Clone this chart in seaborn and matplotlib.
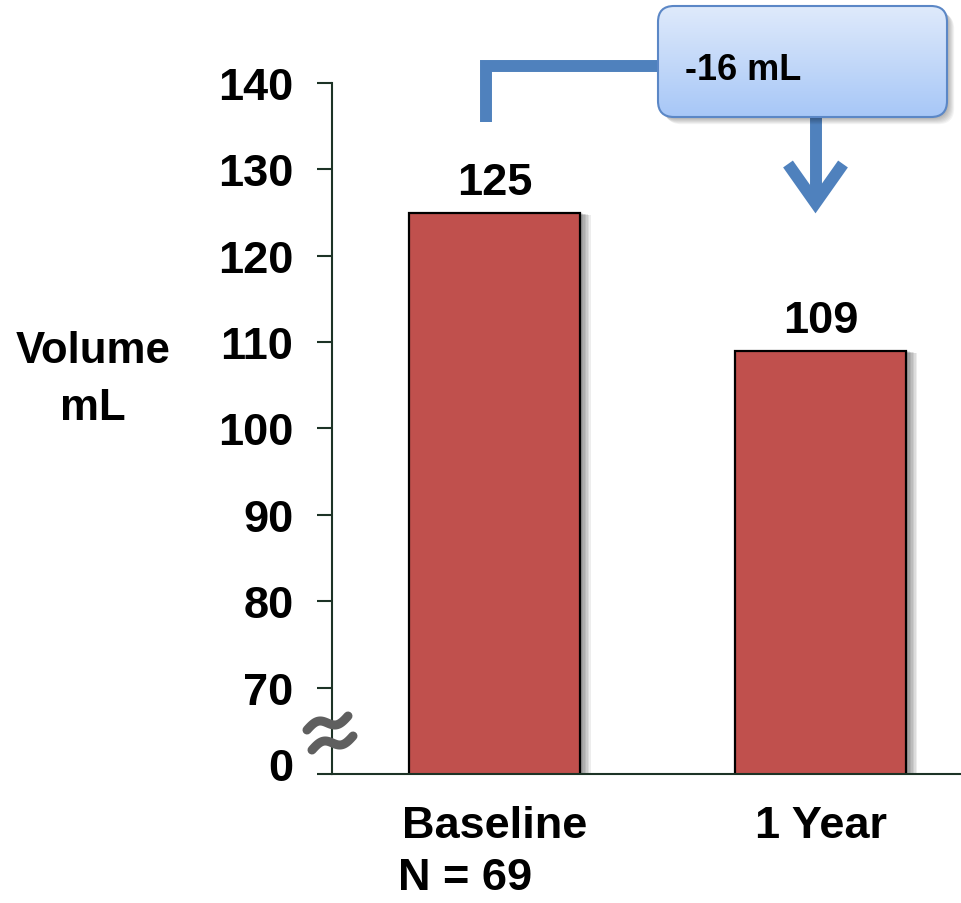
import numpy as np
import pandas as pd
import seaborn as sns
import matplotlib
matplotlib.use("Agg")
import matplotlib.pyplot as plt
import matplotlib.patheffects as pe
import matplotlib.transforms as mtransforms
from matplotlib.patches import FancyBboxPatch

# ---- data ----
categories = ["Baseline", "1 Year"]
volumes = [125, 109]
y_ticks = [60, 70, 80, 90, 100, 110, 120, 130, 140]
y_tick_labels = ["0", "70", "80", "90", "100", "110", "120", "130", "140"]
sample_note = "N = 69"

sns.set_theme(style="white")
plt.rcParams["font.family"] = ["Liberation Sans", "DejaVu Sans"]
plt.rcParams["font.weight"] = "bold"

W, H = 961, 904
FS = 32.5
fig = plt.figure(figsize=(W / 100, H / 100), dpi=100)
fig.patch.set_facecolor("white")

# main axes: pixel box x 332..961, y 84..775
ax = fig.add_axes([332 / W, (H - 775) / H, (W - 332) / W, (775 - 84) / H])
ax.set_facecolor("white")

df = pd.DataFrame({"period": categories, "volume": volumes})
bar_fx = [pe.SimplePatchShadow(offset=(k * 1.1, -k * 0.25), shadow_rgbFace="black",
                               alpha=0.07) for k in range(1, 8)] + [pe.Normal()]
sns.barplot(data=df, x="period", y="volume", color="#c0504d", saturation=1,
            width=0.524, edgecolor="black", linewidth=1.6, ax=ax)
for bar in ax.patches:
    bar.set_path_effects(bar_fx)

ax.set_xlim(-0.498, 1.429)
ax.set_ylim(60, 140)
ax.set_yticks(y_ticks)
ax.set_yticklabels(y_tick_labels)
ax.set_xlabel("")
ax.set_ylabel("")

spine_color = "#1d3326"
for side in ["top", "right"]:
    ax.spines[side].set_visible(False)
for side in ["left", "bottom"]:
    ax.spines[side].set_color(spine_color)
    ax.spines[side].set_linewidth(1.5)

ax.tick_params(axis="y", direction="out", length=10.8, width=1.5, color=spine_color,
               pad=17, labelsize=FS, left=True)
ax.tick_params(axis="x", length=0, pad=22, labelsize=FS)
for lbl in ax.get_yticklabels() + ax.get_xticklabels():
    lbl.set_fontweight("bold")
    lbl.set_color("black")

# the "0" under the axis break sits a little above its tick
zero_lbl = ax.get_yticklabels()[0]
zero_lbl.set_transform(zero_lbl.get_transform() +
                       mtransforms.ScaledTranslation(0, 10 / 100, fig.dpi_scale_trans))

# value labels on the bars
for cont in ax.containers:
    ax.bar_label(cont, labels=[f"{v:d}" for v in volumes], padding=7,
                 fontsize=FS, fontweight="bold", color="black")

# axis title and sample size
fig.text(93 / W, 1 - 363 / H, "Volume", ha="center", va="baseline",
         fontsize=31.5, fontweight="bold", color="black")
fig.text(93 / W, 1 - 420 / H, "mL", ha="center", va="baseline",
         fontsize=31.5, fontweight="bold", color="black")
fig.text(398 / W, 1 - 890 / H, sample_note, ha="left", va="baseline",
         fontsize=FS, fontweight="bold", color="black")

# ---- overlay in pixel coordinates for callout and axis break ----
ov = fig.add_axes([0, 0, 1, 1], zorder=10)
ov.set_facecolor("none")
ov.axis("off")

# axis break mark
t = np.linspace(0, 1, 60)
for x0, y0 in [(307, 731), (312, 751)]:
    xs = x0 + 41 * t
    ys = y0 - 14 * t - 5 * np.sin(2 * np.pi * t)
    ov.plot(xs, ys, color="#5f5f5f", lw=6.5, solid_capstyle="round")

blue = "#4f81bd"
# connector from the baseline bar to the callout
ov.plot([486, 486, 658], [123, 67, 67], color=blue, lw=8.6,
        solid_joinstyle="miter", solid_capstyle="butt")
# arrow down toward the 1-year bar
ov.plot([815.5, 815.5], [118, 205], color=blue, lw=8.6, solid_capstyle="butt")
ov.plot([788, 815.5, 843], [165, 204, 165], color=blue, lw=8.6,
        solid_joinstyle="miter", solid_capstyle="butt")

# callout box with soft shadow and vertical gradient
bx0, by0, bw, bh = 658, 7, 289, 111
for k in range(1, 9):
    ov.add_patch(FancyBboxPatch((bx0 + k * 0.9, by0 + k * 0.9), bw, bh,
                                boxstyle="round,pad=0,rounding_size=16",
                                facecolor="black", edgecolor="none", alpha=0.045,
                                zorder=2))
box = FancyBboxPatch((bx0, by0), bw, bh, boxstyle="round,pad=0,rounding_size=16",
                     facecolor="white", edgecolor="none", zorder=3)
ov.add_patch(box)
top_c = np.array([0.875, 0.918, 0.984])
bot_c = np.array([0.655, 0.780, 0.969])
g = np.linspace(0, 1, 256)[:, None, None]
grad = top_c[None, None, :] * (1 - g) + bot_c[None, None, :] * g
im = ov.imshow(grad, extent=(bx0, bx0 + bw, by0 + bh, by0), aspect="auto",
               origin="upper", interpolation="bilinear", zorder=4)
im.set_clip_path(box)
edge = FancyBboxPatch((bx0, by0), bw, bh, boxstyle="round,pad=0,rounding_size=16",
                      facecolor="none", edgecolor="#5b87c6", linewidth=1.5, zorder=5)
ov.add_patch(edge)

change = volumes[1] - volumes[0]
ov.text(685, 80, f"{change:d} mL", ha="left", va="baseline", fontsize=26,
        fontweight="bold", color="black", zorder=6)

ov.set_xlim(0, W)
ov.set_ylim(H, 0)

fig.savefig("out.png", dpi=100, facecolor="white")
